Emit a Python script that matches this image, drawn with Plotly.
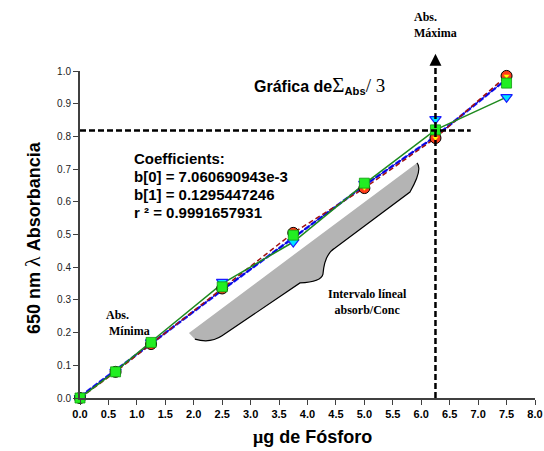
import plotly.graph_objects as go

# ---- data ----
x_ug = [0.0, 0.625, 1.25, 2.5, 3.75, 5.0, 6.25, 7.5]
abs_circles = [0.0, 0.08, 0.165, 0.335, 0.505, 0.642, 0.795, 0.985]
abs_triangles = [0.0, 0.08, 0.17, 0.355, 0.477, 0.655, 0.853, 0.92]
abs_squares = [0.0, 0.08, 0.17, 0.34, 0.498, 0.657, 0.82, 0.963]
green_line = [0.0, 0.082, 0.172, 0.35, 0.477, 0.655, 0.82, 0.92]
blue_line = [0.004, 0.084, 0.166, 0.33, 0.49, 0.65, 0.80, 0.975]
x_ticks = [i * 0.5 for i in range(17)]
y_ticks = [i * 0.1 for i in range(11)]
coef_lines = ["Coefficients:", "b[0] = 7.060690943e-3", "b[1] = 0.1295447246", "r ² = 0.9991657931"]
abs_max_x = 6.25
abs_max_y = 0.818
x_max = 8.0

fig = go.Figure()

fig.add_trace(go.Scatter(x=x_ug, y=blue_line, mode="lines",
                         line=dict(color="#1a1aff", width=2.5, dash="6px,2px"),
                         showlegend=False, cliponaxis=False))
fig.add_trace(go.Scatter(x=x_ug, y=blue_line, mode="lines",
                         line=dict(color="#0000cc", width=1),
                         showlegend=False, cliponaxis=False))
fig.add_trace(go.Scatter(x=x_ug, y=abs_circles, mode="lines",
                         line=dict(color="#a01010", width=1.5, dash="5px,3px"),
                         showlegend=False, cliponaxis=False))
fig.add_trace(go.Scatter(x=x_ug, y=green_line, mode="lines",
                         line=dict(color="#1e8a1e", width=1.5),
                         showlegend=False, cliponaxis=False))
fig.add_trace(go.Scatter(x=x_ug, y=abs_triangles, mode="markers",
                         marker=dict(symbol="triangle-down", size=10, color="#00e5ff",
                                     line=dict(color="#1a1aff", width=1.2)),
                         showlegend=False, cliponaxis=False))
fig.add_trace(go.Scatter(x=x_ug, y=abs_circles, mode="markers",
                         marker=dict(symbol="circle", size=11, color="#ff3b1a",
                                     line=dict(color="#000000", width=1)),
                         showlegend=False, cliponaxis=False))
fig.add_trace(go.Scatter(x=x_ug, y=abs_circles, mode="markers",
                         marker=dict(symbol="triangle-down", size=6, color="#ffff00",
                                     line=dict(color="#ff3b1a", width=0.5)),
                         showlegend=False, cliponaxis=False))
fig.add_trace(go.Scatter(x=x_ug, y=abs_squares, mode="markers",
                         marker=dict(symbol="square", size=10, color="#22ee22",
                                     line=dict(color="#119911", width=0.8)),
                         showlegend=False, cliponaxis=False))

brace_outline = ("M 5.925,0.719 Q 6.03,0.70 5.802,0.630 L 4.484,0.459 "
                 "Q 4.30,0.44 4.272,0.379 Q 4.24,0.355 3.868,0.352 L 2.497,0.190 "
                 "Q 2.29,0.166 2.02,0.18")
shapes = [
    dict(type="line", xref="x", yref="y", x0=0, x1=6.87, y0=abs_max_y, y1=abs_max_y,
         line=dict(color="black", width=2.5, dash="6px,3px"), layer="above"),
    dict(type="line", xref="paper", yref="paper", x0=abs_max_x / x_max, x1=abs_max_x / x_max,
         y0=0, y1=1.03, line=dict(color="black", width=2.5, dash="6px,3px"), layer="above"),
    dict(type="path", xref="x", yref="y", layer="below",
         path="M 1.916,0.199 L " + brace_outline[2:] + " Z",
         fillcolor="#b4b4b4", line=dict(width=0)),
    dict(type="path", xref="x", yref="y", layer="below",
         path=brace_outline, line=dict(color="black", width=1.2)),
]

serif = "Liberation Serif, Times New Roman, serif"
sans = "Liberation Sans, Arial, sans-serif"

annotations = [
    dict(xref="paper", yref="paper", x=0.527, y=0.957, xanchor="center", yanchor="middle",
         showarrow=False,
         text="<b>Gráfica de</b><span style='font-family:Liberation Serif;font-size:21px'>Σ</span>"
              "<sub><b>Abs</b></sub><span style='font-family:Liberation Serif;font-size:19px'>/ 3</span>",
         font=dict(family=sans, size=16, color="black")),
    dict(xref="x", yref="y", x=0.42, y=0.229, xanchor="left", yanchor="middle", align="left",
         showarrow=False,
         text="<b>Abs.<br> Mínima</b>", font=dict(family=serif, size=12, color="black")),
    dict(xref="paper", yref="paper", x=5.84 / x_max, y=1.142, xanchor="left", yanchor="middle",
         align="left", showarrow=False,
         text="<b>Abs.<br>Máxima</b>", font=dict(family=serif, size=12, color="black")),
    dict(xref="x", yref="y", x=5.05, y=0.294, xanchor="center", yanchor="middle",
         showarrow=False, align="center",
         text="<b>Intervalo líneal<br>absorb/Conc</b>", font=dict(family=serif, size=12, color="black")),
    dict(xref="paper", yref="paper", x=abs_max_x / x_max, y=1.053, ax=0, ay=12,
         text="", showarrow=True, arrowhead=2, arrowsize=1.2, arrowwidth=2, arrowcolor="black"),
    dict(xref="paper", yref="paper", x=0.51, y=-0.119, xanchor="center", yanchor="middle",
         showarrow=False,
         text="<b><span style='font-family:Liberation Serif'>μ</span>g de Fósforo</b>",
         font=dict(family=sans, size=18, color="black")),
    dict(xref="paper", yref="paper", x=-0.1055, y=0.492, xanchor="center", yanchor="middle",
         showarrow=False, textangle=-90,
         text="<b>650 nm</b> <span style='font-family:Liberation Serif;font-size:22px'>λ</span> <b>Absorbancia</b>",
         font=dict(family=sans, size=18, color="black")),
]
coef_y = [0.731, 0.676, 0.622, 0.568]
for txt, yy in zip(coef_lines, coef_y):
    annotations.append(dict(xref="x", yref="y", x=0.914, y=yy, xanchor="left", yanchor="middle",
                            showarrow=False, text=f"<b>{txt}</b>",
                            font=dict(family=sans, size=15, color="black")))

fig.update_layout(
    width=544, height=451,
    margin=dict(l=80, r=9, t=71, b=53),
    paper_bgcolor="white", plot_bgcolor="white",
    shapes=shapes, annotations=annotations,
    showlegend=False,
    xaxis=dict(range=[0, x_max], tickvals=x_ticks, ticktext=[f"<b>{v:.1f}</b>" for v in x_ticks],
               showgrid=False, zeroline=False, showline=True, linecolor="#404040", linewidth=2,
               ticks="outside", ticklen=5, tickwidth=1.2, tickcolor="#404040", automargin=False,
               tickfont=dict(family=sans, size=11, color="black")),
    yaxis=dict(range=[0, 1], tickvals=y_ticks, ticktext=[f"{v:.1f}" for v in y_ticks],
               showgrid=False, zeroline=False, showline=True, linecolor="#404040", linewidth=2,
               ticks="outside", ticklen=5, tickwidth=1.2, tickcolor="#404040", automargin=False,
               tickfont=dict(family=sans, size=10, color="#222222")),
)

fig.write_html("out.html", config={"displayModeBar": False},
               post_script="document.body.style.margin='0';document.body.style.overflow='hidden';")
